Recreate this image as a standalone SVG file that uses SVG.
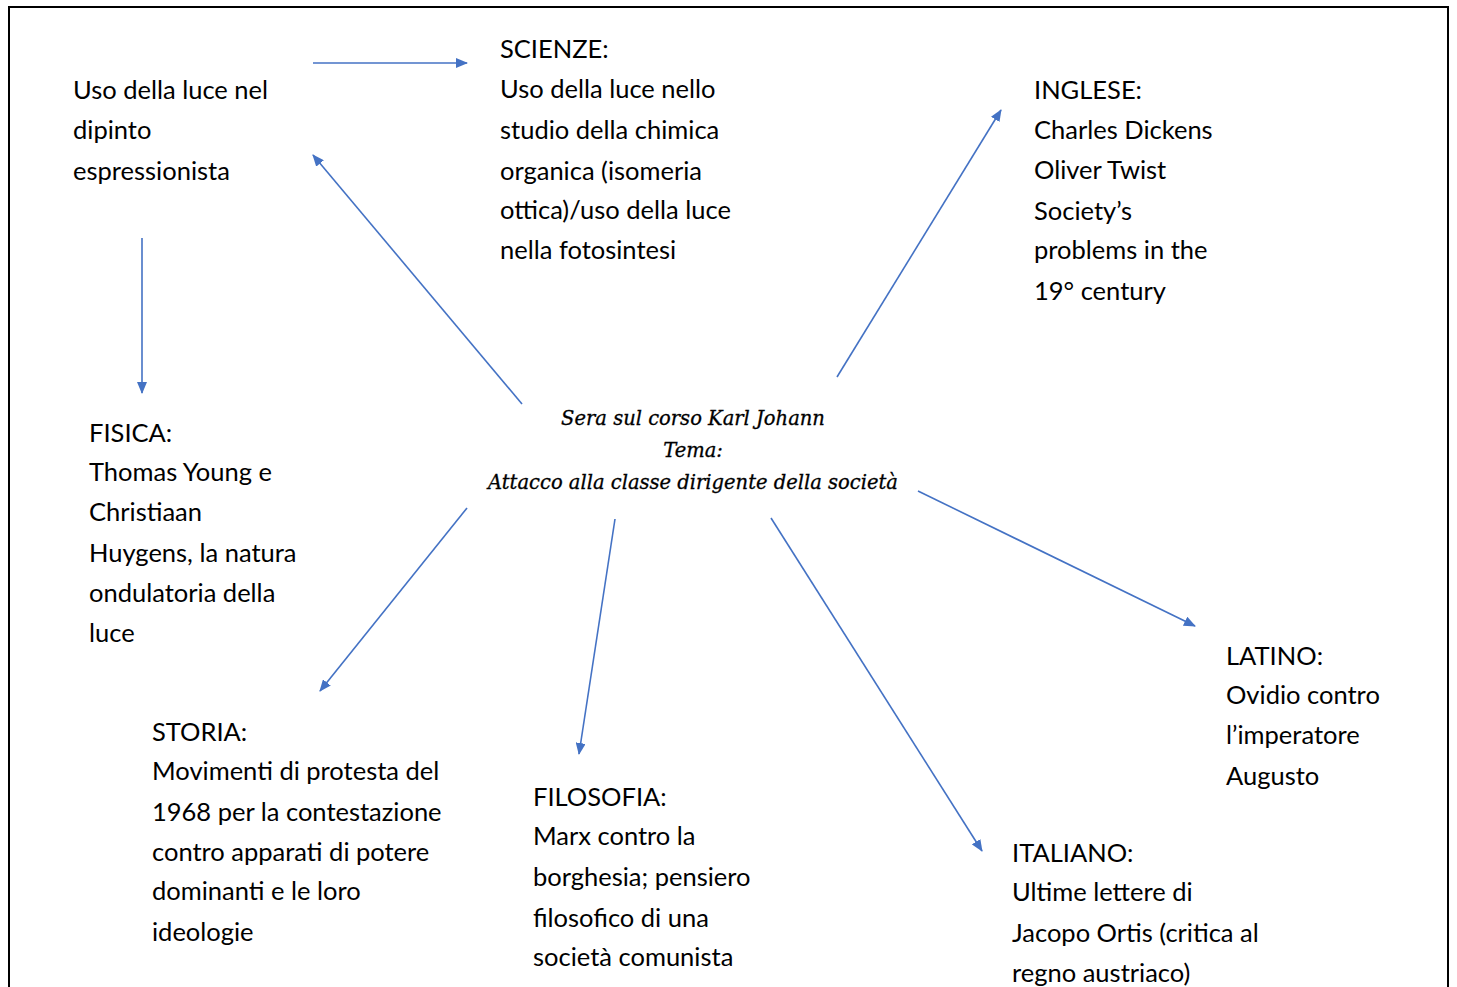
<svg xmlns="http://www.w3.org/2000/svg" width="1457" height="987" viewBox="0 0 1457 987">
<style>
.t{font-family:Lato,"Open Sans","Liberation Sans",sans-serif;font-size:25.5px;fill:#000}
.c{font-family:"DejaVu Serif","Liberation Serif",serif;font-style:italic;font-size:19.5px;fill:#000;text-anchor:middle;stroke:#000;stroke-width:0.3}
.a{stroke:#4472C4;stroke-width:1.6;fill:none;marker-end:url(#ah)}
</style>
<defs>
<marker id="ah" markerWidth="12" markerHeight="10" refX="11" refY="5" orient="auto" markerUnits="userSpaceOnUse">
<path d="M0,0 L12,5 L0,10 Z" fill="#4472C4"/>
</marker>
</defs>
<rect width="1457" height="987" fill="#fff"/>
<path d="M9,990 V7 H1448 V990" fill="none" stroke="#000" stroke-width="2"/>
<g id="connectors">
<line class="a" x1="313" y1="63" x2="467" y2="63"/>
<line class="a" x1="522" y1="404" x2="313" y2="155"/>
<line class="a" x1="142" y1="238" x2="142" y2="393"/>
<line class="a" x1="837" y1="377" x2="1001" y2="110"/>
<line class="a" x1="918" y1="491" x2="1195" y2="626"/>
<line class="a" x1="467" y1="508" x2="320" y2="691"/>
<line class="a" x1="615" y1="519" x2="579" y2="754"/>
<line class="a" x1="771" y1="518" x2="982" y2="851"/>
</g>
<g id="center">
<text class="c" x="693" y="425">Sera sul corso Karl Johann</text>
<text class="c" x="693" y="457">Tema:</text>
<text class="c" x="693" y="489">Attacco alla classe dirigente della società</text>
</g>
<g id="luce">
<text class="t" x="73" y="99">Uso della luce nel</text>
<text class="t" x="73" y="139">dipinto</text>
<text class="t" x="73" y="180">espressionista</text>
</g>
<g id="scienze">
<text class="t" x="500" y="58">SCIENZE:</text>
<text class="t" x="500" y="98">Uso della luce nello</text>
<text class="t" x="500" y="139">studio della chimica</text>
<text class="t" x="500" y="180">organica (isomeria</text>
<text class="t" x="500" y="219">ottica)/uso della luce</text>
<text class="t" x="500" y="259">nella fotosintesi</text>
</g>
<g id="inglese">
<text class="t" x="1034" y="99">INGLESE:</text>
<text class="t" x="1034" y="139">Charles Dickens</text>
<text class="t" x="1034" y="179">Oliver Twist</text>
<text class="t" x="1034" y="220">Society’s</text>
<text class="t" x="1034" y="259">problems in the</text>
<text class="t" x="1034" y="300">19° century</text>
</g>
<g id="fisica">
<text class="t" x="89" y="442">FISICA:</text>
<text class="t" x="89" y="481">Thomas Young e</text>
<text class="t" x="89" y="521">Christiaan</text>
<text class="t" x="89" y="562">Huygens, la natura</text>
<text class="t" x="89" y="602">ondulatoria della</text>
<text class="t" x="89" y="642">luce</text>
</g>
<g id="storia">
<text class="t" x="152" y="741">STORIA:</text>
<text class="t" x="152" y="780">Movimenti di protesta del</text>
<text class="t" x="152" y="821">1968 per la contestazione</text>
<text class="t" x="152" y="861">contro apparati di potere</text>
<text class="t" x="152" y="900">dominanti e le loro</text>
<text class="t" x="152" y="941">ideologie</text>
</g>
<g id="filosofia">
<text class="t" x="533" y="806">FILOSOFIA:</text>
<text class="t" x="533" y="845">Marx contro la</text>
<text class="t" x="533" y="886">borghesia; pensiero</text>
<text class="t" x="533" y="927">filosofico di una</text>
<text class="t" x="533" y="966">società comunista</text>
</g>
<g id="italiano">
<text class="t" x="1012" y="862">ITALIANO:</text>
<text class="t" x="1012" y="901">Ultime lettere di</text>
<text class="t" x="1012" y="942">Jacopo Ortis (critica al</text>
<text class="t" x="1012" y="982">regno austriaco)</text>
</g>
<g id="latino">
<text class="t" x="1226" y="665">LATINO:</text>
<text class="t" x="1226" y="704">Ovidio contro</text>
<text class="t" x="1226" y="744">l’imperatore</text>
<text class="t" x="1226" y="785">Augusto</text>
</g>
</svg>
